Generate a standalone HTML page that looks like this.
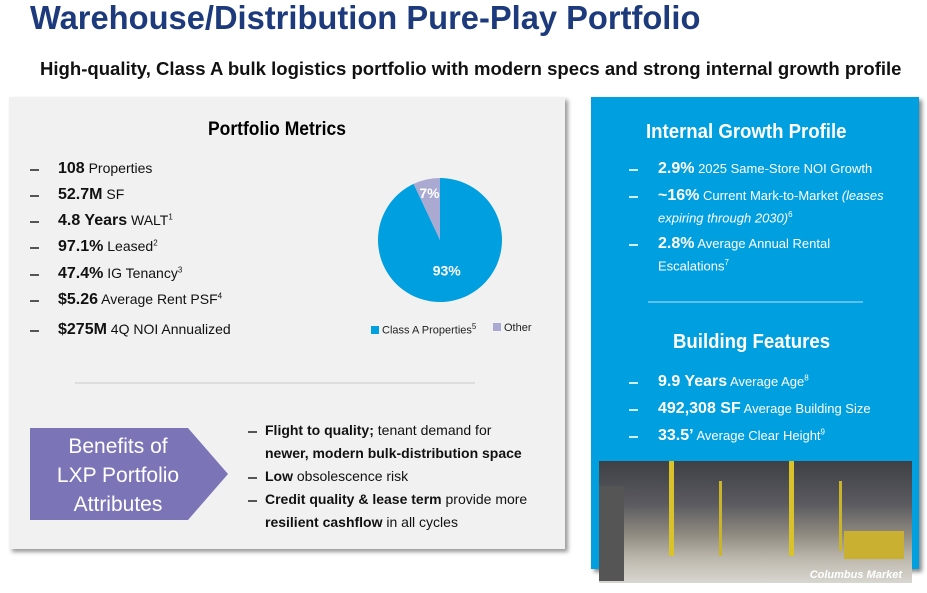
<!DOCTYPE html>
<html><head><meta charset="utf-8"><style>
body{margin:0;width:927px;height:593px;background:#fff;font-family:"Liberation Sans",sans-serif;position:relative;overflow:hidden}
.abs{position:absolute}
.sx{display:inline-block;transform-origin:left center;white-space:nowrap}
.li{position:absolute;white-space:nowrap;font-size:14px}
.li b{font-size:16px}
.dash{position:absolute;width:9px;height:1.5px}
sup{font-size:8px}
</style></head><body>
<div class="abs" style="left:30px;top:-1px;font-size:33px;font-weight:bold;color:#1d3b7c;"><span class="sx" style="transform:scaleX(0.99)">Warehouse/Distribution Pure-Play Portfolio</span></div>
<div class="abs" style="left:40px;top:59px;font-size:18px;font-weight:bold;color:#111"><span class="sx" style="transform:scaleX(1.03)">High-quality, Class A bulk logistics portfolio with modern specs and strong internal growth profile</span></div>

<div class="abs" style="left:9px;top:97px;width:556px;height:452px;background:#f1f1f1;box-shadow:3px 3px 4px #999"></div>
<div class="abs" style="left:208px;top:119px;font-size:19px;font-weight:bold"><span class="sx" style="transform:scaleX(0.92)">Portfolio Metrics</span></div>
<div id="metrics"></div>

<svg class="abs" style="left:0;top:0" width="927" height="593" id="pie"></svg>
<div class="abs" style="left:371px;top:322px;font-size:11px;color:#222"><span style="display:inline-block;width:8px;height:8px;background:#009fdf;margin-right:3px"></span>Class A Properties<sup>5</sup></div>
<div class="abs" style="left:493px;top:322px;font-size:11px;color:#222"><span style="display:inline-block;width:8px;height:8px;background:#a9a9d2;margin-right:3px"></span>Other</div>

<div class="abs" style="left:75px;top:382px;width:400px;height:2px;background:#ddd"></div>
<svg class="abs" style="left:30px;top:428px" width="200" height="93"><polygon points="0,0 158,0 198,46 158,92 0,92" fill="#7b75b7"/></svg>
<div class="abs" style="left:38px;top:432px;width:160px;text-align:center;color:#fff;font-size:21px;line-height:29px">Benefits of<br>LXP Portfolio<br>Attributes</div>
<div id="benefits"></div>

<div class="abs" style="left:591px;top:97px;width:328px;height:472px;background:#009fdf;box-shadow:3px 3px 4px #888"></div>
<div class="abs" style="left:646px;top:121px;color:#fff;font-size:20px;font-weight:bold"><span class="sx" style="transform:scaleX(0.93)">Internal Growth Profile</span></div>
<div class="abs" style="left:648px;top:301px;width:215px;height:2px;background:#5cc0ea"></div>
<div class="abs" style="left:673px;top:331px;color:#fff;font-size:20px;font-weight:bold"><span class="sx" style="transform:scaleX(0.93)">Building Features</span></div>
<div id="growth"></div>

<div class="abs" style="left:599px;top:461px;width:313px;height:122px;background:linear-gradient(180deg,#3e4046 0%,#5a5a60 35%,#8f8a80 60%,#bdb8ad 80%,#d8d6d0 100%);overflow:hidden">
<div style="position:absolute;left:70px;top:0;width:5px;height:95px;background:#d9c22a"></div>
<div style="position:absolute;left:190px;top:0;width:5px;height:95px;background:#d9c22a"></div>
<div style="position:absolute;left:120px;top:20px;width:3px;height:75px;background:#c9b42a"></div>
<div style="position:absolute;left:240px;top:20px;width:3px;height:70px;background:#c9b42a"></div>
<div style="position:absolute;left:0;top:25px;width:25px;height:95px;background:#555"></div>
<div style="position:absolute;left:245px;top:70px;width:60px;height:28px;background:#c9b030"></div>
<div style="position:absolute;right:10px;bottom:2px;color:#fff;font-size:11px;font-weight:bold;font-style:italic">Columbus Market</div>
</div>

<script>
const categories=["Class A Properties","Other"];
const shares=[93,7];
const pieLabels=["93%","7%"];
const colors=["#009fdf","#a9a9d2"];
const NS="http://www.w3.org/2000/svg";
const svg=document.getElementById('pie');
const cx=440,cy=240,r=62;
const total=shares.reduce((a,b)=>a+b,0);
function ang(v){return v/total*2*Math.PI;}
let start=0;
const order=[0,1];
order.forEach(i=>{
  const a0=start, a1=start+ang(shares[i]);
  const x0=cx+r*Math.sin(a0),y0=cy-r*Math.cos(a0),x1=cx+r*Math.sin(a1),y1=cy-r*Math.cos(a1);
  const p=document.createElementNS(NS,'path');
  p.setAttribute('d',`M${cx},${cy}L${x0},${y0}A${r},${r} 0 ${a1-a0>Math.PI?1:0} 1 ${x1},${y1}Z`);
  p.setAttribute('fill',colors[i]);
  
  
  svg.appendChild(p);
  const m=(a0+a1)/2, lr=i===0?r*0.5:r*0.78;
  const t=document.createElementNS(NS,'text');
  t.setAttribute('x',cx+lr*Math.sin(m));t.setAttribute('y',cy-lr*Math.cos(m)+5);
  t.setAttribute('text-anchor','middle');t.setAttribute('fill','#fff');
  t.setAttribute('font-size','14');t.setAttribute('font-weight','bold');
  t.setAttribute('font-family','Liberation Sans, sans-serif');
  t.textContent=pieLabels[i];
  
  
  svg.appendChild(t);
  start=a1;
});

function addList(containerId,items,dashX,textX,color,dashColor){
  const c=document.getElementById(containerId);
  items.forEach(([y,html,fs])=>{
    const d=document.createElement('div');d.className='dash';
    d.style.left=dashX+'px';d.style.top=(y+9)+'px';d.style.background=dashColor;
    
    
    c.appendChild(d);
    const t=document.createElement('div');t.className='li';
    t.style.left=textX+'px';t.style.top=y+'px';t.style.color=color;if(fs)t.style.fontSize=fs;
    t.innerHTML=html;
    
    
    c.appendChild(t);
  });
}
addList('metrics',[
 [160,'<b>108</b> Properties'],[186,'<b>52.7M</b> SF'],[212,'<b>4.8 Years</b> WALT<sup>1</sup>'],
 [238,'<b>97.1%</b> Leased<sup>2</sup>'],[265,'<b>47.4%</b> IG Tenancy<sup>3</sup>'],
 [291,'<b>$5.26</b> Average Rent PSF<sup>4</sup>'],[321,'<b>$275M</b> 4Q NOI Annualized']
],30,58,'#111','#555');
addList('benefits',[
 [422,'<b style="font-size:14px">Flight to quality;</b> tenant demand for'],[445,'<b style="font-size:14px">newer, modern bulk-distribution space</b>'],
 [468,'<b style="font-size:14px">Low</b> obsolescence risk'],[491,'<b style="font-size:14px">Credit quality &amp; lease term</b> provide more'],
 [514,'<b style="font-size:14px">resilient cashflow</b> in all cycles']
],248,265,'#111','#555');
const bd=document.querySelectorAll('#benefits .dash');bd[1].remove();bd[4].remove();
addList('growth',[
 [160,'<b>2.9%</b> 2025 Same-Store NOI Growth',"13px"],
 [187,'<b>~16%</b> Current Mark-to-Market <i>(leases</i>',"13px"],
 [210,'<i>expiring through 2030)</i><sup>6</sup>',"13px"],
 [235,'<b>2.8%</b> Average Annual Rental',"13px"],
 [258,'Escalations<sup>7</sup>',"13px"],
 [373,'<b>9.9 Years</b> Average Age<sup>8</sup>',"13px"],
 [400,'<b>492,308 SF</b> Average Building Size',"13px"],
 [427,'<b>33.5’</b> Average Clear Height<sup>9</sup>',"13px"]
],629,658,'#fff','#cfefff');
const gd=document.querySelectorAll('#growth .dash');gd[2].remove();gd[4].remove();
</script>
</body></html>
